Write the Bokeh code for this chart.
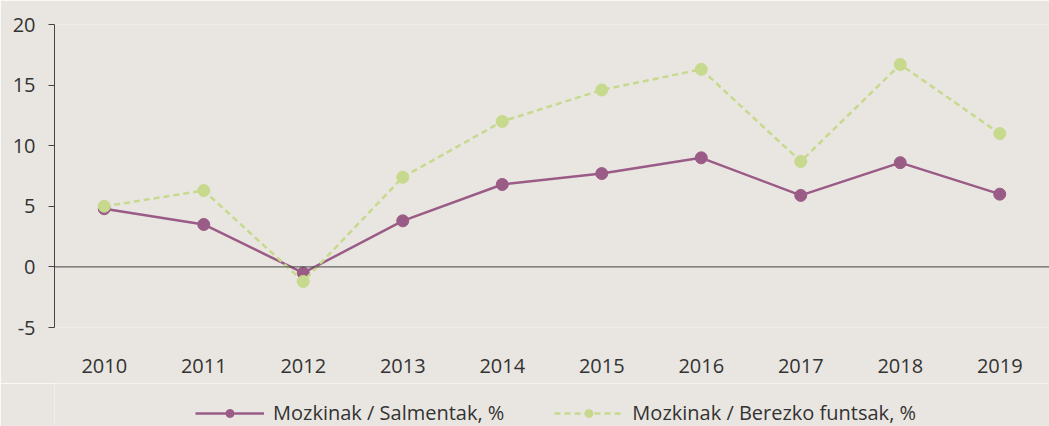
from bokeh.plotting import figure
from bokeh.layouts import column
from bokeh.models import Span, Legend, LegendItem, FixedTicker, Range1d, PrintfTickFormatter
from bokeh.embed import file_html
from bokeh.resources import INLINE

years = ["2010", "2011", "2012", "2013", "2014", "2015", "2016", "2017", "2018", "2019"]
salmentak = [4.8, 3.5, -0.5, 3.8, 6.8, 7.7, 9.0, 5.9, 8.6, 6.0]
funtsak = [5.0, 6.3, -1.2, 7.4, 12.0, 14.6, 16.3, 8.7, 16.7, 11.0]
y_ticks = [-5, 0, 5, 10, 15, 20]
label_salm = "Mozkinak / Salmentak, %"
label_funt = "Mozkinak / Berezko funtsak, %"

BG = "#e9e6e1"
PURPLE = "#9a5b87"
GREEN = "#c6d98d"
TXT = "#333333"
FONT = "Open Sans"
FS = "20px"

p = figure(x_range=years, y_range=Range1d(-5, 20), width=1049, height=383,
           output_backend="svg", toolbar_location=None,
           background_fill_color=BG, border_fill_color=BG,
           min_border_left=54, min_border_right=0, min_border_top=24, min_border_bottom=56)
p.outline_line_color = None
p.xgrid.grid_line_color = None
p.ygrid.grid_line_color = None

p.add_layout(Span(location=0, dimension="width", line_color="#444444", line_width=1))

p.line(years, salmentak, line_color=PURPLE, line_width=2.5)
p.scatter(years, salmentak, size=12, fill_color=PURPLE, line_color=PURPLE)
p.line(years, funtsak, line_color=GREEN, line_width=2.5, line_dash="6 4")
p.scatter(years, funtsak, size=12, fill_color=GREEN, line_color=GREEN)

p.yaxis.ticker = FixedTicker(ticks=y_ticks)
p.yaxis.formatter = PrintfTickFormatter(format="%d")
p.yaxis.axis_line_color = "#444444"
p.yaxis.major_tick_line_color = "#444444"
p.yaxis.major_tick_out = 6
p.yaxis.major_tick_in = 0
p.yaxis.minor_tick_line_color = None
p.yaxis.major_label_standoff = 13
p.yaxis.major_label_text_font = FONT
p.yaxis.major_label_text_font_size = FS
p.yaxis.major_label_text_color = TXT

p.xaxis.axis_line_color = None
p.xaxis.major_tick_line_color = None
p.xaxis.minor_tick_line_color = None
p.xaxis.major_label_standoff = 25
p.xaxis.major_label_text_font = FONT
p.xaxis.major_label_text_font_size = FS
p.xaxis.major_label_text_color = TXT

# legend strip below the chart (series drawn outside its visible range,
# only so that the legend can show their glyphs)
q = figure(width=1049, height=43, x_range=years, y_range=Range1d(1000, 1001),
           output_backend="svg", toolbar_location=None,
           x_axis_location=None, y_axis_location=None,
           background_fill_color=BG, border_fill_color=BG,
           min_border=0)
q.outline_line_color = None
q.xgrid.grid_line_color = None
q.ygrid.grid_line_color = None
l1 = q.line(years, salmentak, line_color=PURPLE, line_width=2.5)
m1 = q.scatter(years, salmentak, size=12, fill_color=PURPLE, line_color=PURPLE)
l2 = q.line(years, funtsak, line_color=GREEN, line_width=2.5, line_dash="6 4")
m2 = q.scatter(years, funtsak, size=12, fill_color=GREEN, line_color=GREEN)

legend = Legend(items=[LegendItem(label=label_salm, renderers=[l1, m1]),
                       LegendItem(label=label_funt, renderers=[l2, m2])],
                orientation="horizontal", location=(141, 0),
                background_fill_alpha=0, border_line_color=None,
                label_text_font=FONT, label_text_font_size=FS, label_text_color=TXT,
                glyph_width=69, glyph_height=20, label_height=20, spacing=50,
                padding=0, margin=0, label_standoff=9)
q.add_layout(legend, "center")

open("out.html", "w").write(file_html(column(p, q, spacing=0), INLINE))
